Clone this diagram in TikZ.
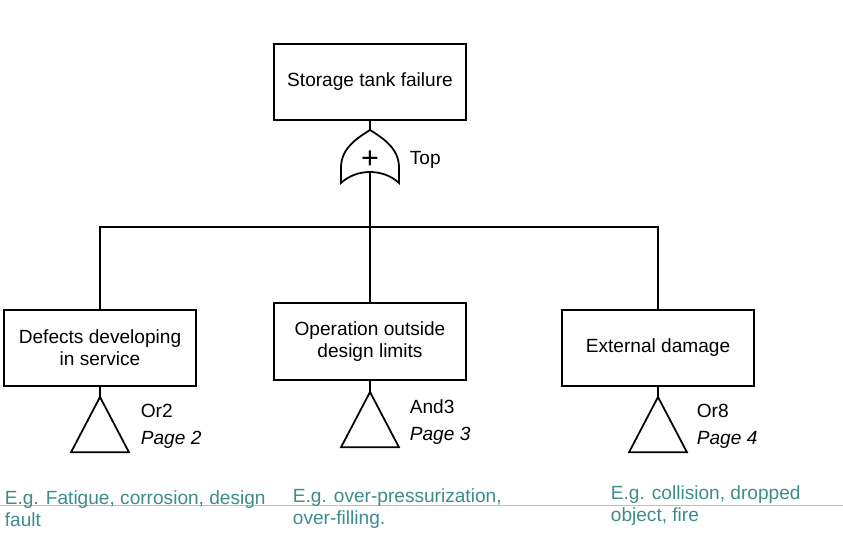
\documentclass[tikz,border=0pt]{standalone}
\usepackage{fontspec}
\setmainfont{Liberation Sans}
\usetikzlibrary{positioning}
\definecolor{egteal}{RGB}{60,140,140}
\definecolor{rulegray}{RGB}{190,190,190}
\tikzset{
	event/.style={draw, line width=1.5pt, minimum width=5.75cm, minimum height=2.3cm,
		align=center, inner sep=2pt},
	gatelabel/.style={anchor=west, align=left, inner sep=0pt,
		font=\fontsize{16.3}{23}\selectfont},
	example/.style={anchor=west, align=left, inner sep=0pt, text=egteal},
}
\begin{document}
\begin{tikzpicture}[font=\fontsize{16.3}{18.8}\selectfont, line width=1.5pt]
	\useasboundingbox (0,0) rectangle (25.29,15.96);
	
	\draw[rulegray, line width=0.8pt] (0,0.81) -- (25.29,0.81);
	
	\node[event] (top) at (11.1,13.5) {Storage tank failure};
	
	%porta OR
	\node[inner sep=0pt, font=\fontsize{26}{26}\selectfont] (gate) at (11.1,11.28) {};
	\node[inner sep=0pt, font=\fontsize{26}{26}\selectfont] (plus) at (11.1,11.17) {+};
	\coordinate (gIn) at (11.1,12.06);
	\coordinate (gOut) at (11.1,10.77);
	\draw (gIn) .. controls ([xshift=-0.45cm,yshift=0.5cm]gate.center) and ([xshift=-0.87cm,yshift=0.2cm]gate.center) .. ([xshift=-0.87cm,yshift=-0.35cm]gate.center)
		-- ([xshift=-0.87cm,yshift=-0.81cm]gate.center)
		.. controls ([xshift=-0.4cm,yshift=-0.37cm]gate.center) and ([xshift=0.4cm,yshift=-0.37cm]gate.center) .. ([xshift=0.87cm,yshift=-0.81cm]gate.center)
		-- ([xshift=0.87cm,yshift=-0.35cm]gate.center)
		.. controls ([xshift=0.87cm,yshift=0.2cm]gate.center) and ([xshift=0.45cm,yshift=0.5cm]gate.center) .. (gIn);
	\node[anchor=west, inner sep=0pt] (toplbl) at (12.27,11.16) {Top};
	\draw (top.south) -- (gIn);
	
	%eventi intermedi
	\node[event] (defects) at (3.0,5.52) {Defects developing\\in service};
	\node[event] (operation) at (11.1,5.715) {Operation outside\\design limits};
	\node[event] (external) at (19.74,5.52) {External damage};
	
	\coordinate (bus) at (11.1,9.15);
	\draw (gOut) -- (bus);
	\draw (defects.north) |- (bus) -| (external.north);
	\draw (bus) -- (operation.north);
	
	%trasferimenti
	\coordinate (t1) at (3.0,4.05);
	\coordinate (t2) at (11.1,4.2);
	\coordinate (t3) at (19.74,4.05);
	\foreach \t in {t1,t2,t3}
		\draw (\t) -- ++(-0.87,-1.66) -- ++(1.74,0) -- cycle;
	\draw (defects.south) -- (t1);
	\draw (operation.south) -- (t2);
	\draw (external.south) -- (t3);
	
	\node[gatelabel] (or2) at (4.2,3.165) {Or2\\\textit{Page 2}};
	\node[gatelabel] (and3) at (12.27,3.285) {And3\\\textit{Page 3}};
	\node[gatelabel] (or8) at (20.88,3.165) {Or8\\\textit{Page 4}};
	
	%esempi
	\node[example] (ex1) at (0.12,0.69) {E.g. Fatigue, corrosion, design\\fault};
	\node[example] (ex2) at (8.76,0.69) {E.g. over-pressurization,\\over-filling.};
	\node[example] (ex3) at (18.3,0.795) {E.g. collision, dropped\\object, fire};
\end{tikzpicture}
\end{document}
